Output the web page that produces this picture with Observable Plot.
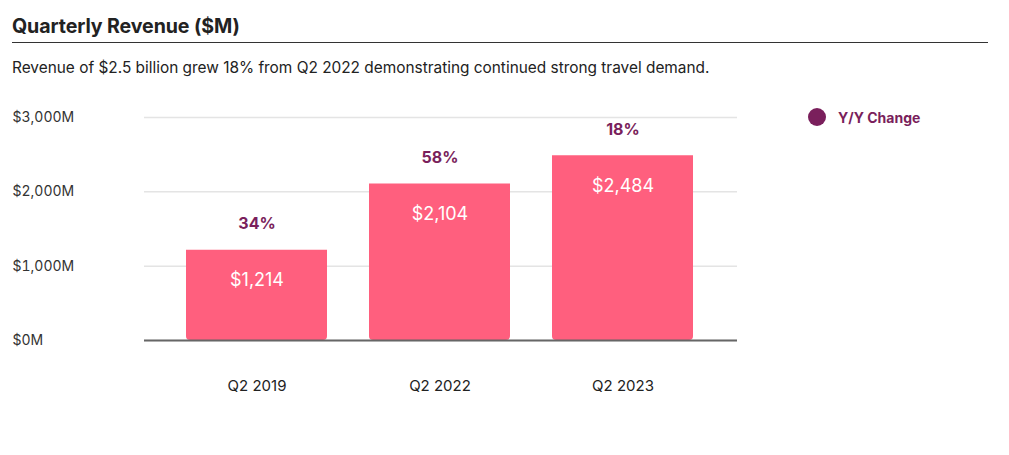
<!DOCTYPE html>
<html>
<head>
<meta charset="utf-8">
<script src="https://cdn.jsdelivr.net/npm/d3@7"></script>
<script src="https://cdn.jsdelivr.net/npm/@observablehq/plot@0.6"></script>
<style>
  html, body { margin: 0; padding: 0; background: #fff; width: 1009px; height: 455px; overflow: hidden; }
  body { font-family: Inter, "Open Sans", sans-serif; color: #222; position: relative; }
  #title { position: absolute; left: 12px; top: 14px; font-size: 19.6px; font-weight: 700; color: #222; letter-spacing: -0.1px; }
  #rule { position: absolute; left: 12px; top: 42px; width: 976px; height: 0; border-top: 1.5px solid #333; }
  #subtitle { position: absolute; left: 12px; top: 58px; font-size: 15.4px; color: #222; }
  #chart { position: absolute; left: 0; top: 90px; }
  #legend { position: absolute; left: 808px; top: 108px; display: flex; align-items: center; gap: 12px; font-size: 14px; font-weight: 700; color: #7a1f5c; }
  #legend .sw { width: 18px; height: 18px; border-radius: 50%; background: #7a1f5c; }
</style>
</head>
<body>
<div id="title">Quarterly Revenue ($M)</div>
<div id="rule"></div>
<div id="subtitle">Revenue of $2.5 billion grew 18% from Q2 2022 demonstrating continued strong travel demand.</div>
<div id="chart"></div>
<div id="legend"><div class="sw"></div><div>Y/Y Change</div></div>
<script>
const quarters = ["Q2 2019", "Q2 2022", "Q2 2023"];
const revenue = [1214, 2104, 2484];
const yoyChange = [34, 58, 18];
const yTicks = [0, 1000, 2000, 3000];

const data = quarters.map((q, i) => ({quarter: q, revenue: revenue[i], change: yoyChange[i]}));
const pink = "#ff5f7e";
const purple = "#7a1f5c";

const chart = Plot.plot({
  width: 1009,
  height: 330,
  marginTop: 27,
  marginBottom: 80,
  marginLeft: 144,
  marginRight: 272,
  style: {fontFamily: "Inter, 'Open Sans', sans-serif", background: "transparent"},
  x: {domain: quarters, padding: 0.23, range: [142.5, 735.5], label: null},
  y: {domain: [0, 3000], label: null},
  marks: [
    Plot.gridY(yTicks, {stroke: "#e4e4e4", strokeOpacity: 1, strokeWidth: 1.5}),
    Plot.barY(data, {x: "quarter", y: "revenue", fill: pink, ry2: 4}),
    Plot.ruleY([0], {stroke: "#666", strokeWidth: 2}),
    Plot.text(data, {x: "quarter", y: "revenue", text: d => "$" + d3.format(",")(d.revenue), dy: 30, fill: "#fff", fontSize: 18}),
    Plot.text(data, {x: "quarter", y: "revenue", text: d => d.change + "%", dy: -26, fill: purple, fontSize: 16, fontWeight: 700}),
    Plot.axisY(yTicks, {tickSize: 0, textAnchor: "start", dx: -132, tickPadding: 0, tickFormat: d => "$" + d3.format(",")(d) + "M", fontSize: 14, fill: "#333", label: null}),
    Plot.axisX({tickSize: 0, tickPadding: 40, fontSize: 15, fill: "#222", label: null})
  ]
});
document.getElementById("chart").appendChild(chart);
</script>
</body>
</html>
